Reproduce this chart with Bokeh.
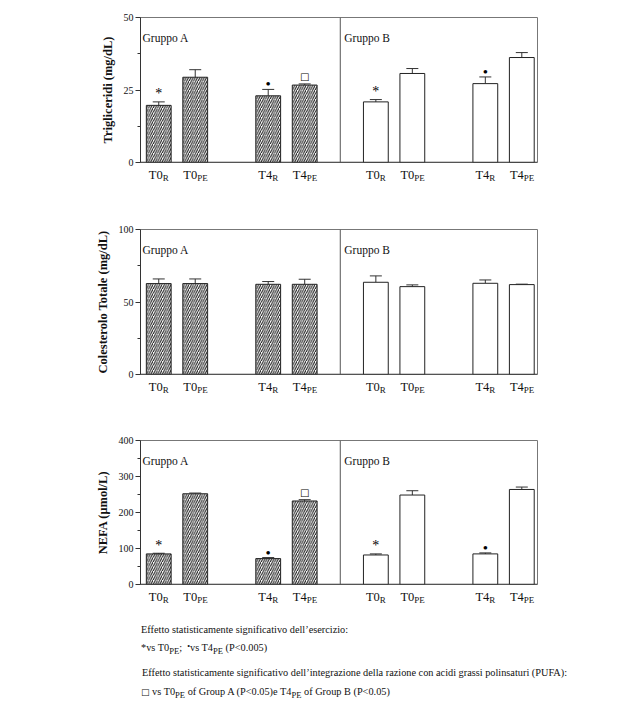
from bokeh.plotting import figure
from bokeh.models import (ColumnDataSource, Range1d, FixedTicker, Span, Label,
                          Whisker, TeeHead, Div)
from bokeh.layouts import column
from bokeh.embed import file_html
from bokeh.resources import INLINE
from bokeh.core.properties import value

# ---------------- data ----------------
groups = ["Gruppo A", "Gruppo B"]
times = ["T0", "T4"]
phases = ["R", "PE"]

trig_mean = [19.7, 29.4, 23.0, 26.7, 20.9, 30.7, 27.2, 36.2]
trig_err = [1.2, 2.6, 2.2, 0.4, 0.8, 1.7, 2.3, 1.7]
trig_sig = ["*", "", "•", "□", "*", "", "•", ""]

chol_mean = [62.7, 62.7, 62.2, 62.2, 63.6, 60.6, 62.9, 62.0]
chol_err = [3.2, 3.2, 1.9, 3.5, 4.4, 1.2, 2.3, 0.3]
chol_sig = ["", "", "", "", "", "", "", ""]

nefa_mean = [85, 252, 72, 232, 82, 248.5, 85, 264]
nefa_err = [1.8, 2.0, 2.8, 3.6, 3.0, 12.0, 2.8, 6.7]
nefa_sig = ["*", "", "•", "□", "*", "", "•", ""]

trig_ticks = [0, 25, 50]
chol_ticks = [0, 50, 100]
nefa_ticks = [0, 100, 200, 300, 400]

note1 = "Effetto statisticamente significativo dell’esercizio:"
note2 = ("*vs T0<sub>PE</sub>;&nbsp; <span style='position:relative;top:-2px;font-size:8px'>•</span>"
         "vs T4<sub>PE</sub> (P&lt;0.005)")
note3 = "Effetto statisticamente significativo dell’integrazione della razione con acidi grassi polinsaturi (PUFA):"
note4 = ("<span style=\"font-family:'DejaVu Sans';font-size:9px\">□</span> vs T0<sub>PE</sub> of Group A "
         "(P&lt;0.05)e T4<sub>PE</sub> of Group B (P&lt;0.05)")

FONT = "Liberation Serif"
TOTAL_W = 619
PAD_B = 7  # room under each frame for the half of the "0" tick label

# symbol -> (y offset px, font size, font)
SYM_STYLE = {"*": (-8, "14px", FONT), "•": (-5, "15px", FONT), "□": (-7, "10px", "DejaVu Sans")}


def panel(ylabel, means, errs, sigs, ticks, frame_h, strip_h, left, frame_w, top):
    xs, mains, subs, jx, hatch, tops = [], [], [], [], [], []
    k = 0
    for gi in range(len(groups)):
        for ti in range(len(times)):
            for si in range(len(phases)):
                xs.append(0.5 + gi * 5.95 + ti * 3 + si)
                mains.append(times[ti])
                subs.append(phases[si])
                jx.append(4 if si == 0 else 2)
                hatch.append("/" if gi == 0 else " ")
                tops.append(means[k] + errs[k])
                k += 1
    src = ColumnDataSource(dict(x=xs, mean=means, top=tops, hatch=hatch))
    right = TOTAL_W - left - frame_w
    xr = Range1d(0, 10.88)
    p = figure(width=TOTAL_W, height=top + frame_h + PAD_B, output_backend="svg",
               toolbar_location=None,
               x_range=xr, y_range=Range1d(0, ticks[-1]), x_axis_location=None,
               min_border_left=left, min_border_right=right,
               min_border_top=top, min_border_bottom=PAD_B)
    p.title.visible = False
    p.grid.visible = False
    p.outline_line_color = "#777777"
    p.background_fill_color = "white"
    p.border_fill_color = "white"

    # bars
    p.vbar(x="x", top="mean", bottom=0, width=0.68, source=src,
           fill_color="white", line_color="#222222", line_width=1,
           hatch_pattern="hatch", hatch_color="#111111", hatch_scale=4.5, hatch_weight=1)

    # error bars (upper only)
    p.add_layout(Whisker(source=src, base="x", lower="mean", upper="top",
                         dimension="height", line_color="#333333", line_width=1,
                         upper_head=TeeHead(size=12, line_color="#333333", line_width=1),
                         lower_head=None))

    # significance marks
    for sym, (dy, fs, font) in SYM_STYLE.items():
        idx = [i for i, s in enumerate(sigs) if s == sym]
        if not idx:
            continue
        p.text(x=[xs[i] for i in idx], y=[tops[i] for i in idx], text=[sym] * len(idx),
               y_offset=dy, text_align="center", text_baseline="middle",
               text_font=value(font), text_font_size=fs, text_color="black")

    # x axis line (bottom) and group divider
    p.add_layout(Span(location=0, dimension="width", line_color="#333333", line_width=1.5))
    xdiv = (xs[3] + xs[4]) / 2
    p.add_layout(Span(location=xdiv, dimension="height", line_color="#555555", line_width=1))

    # group labels
    for gx, gname, off in ((0, groups[0], 2), (xdiv, groups[1], 4)):
        p.add_layout(Label(x=gx, y=ticks[-1], x_offset=off, y_offset=-20, text=gname,
                           text_baseline="middle", text_font=FONT,
                           text_font_size="11.5px", text_color="#111111"))

    # y axis
    minor = [(a + b) / 2 for a, b in zip(ticks[:-1], ticks[1:])]
    p.yaxis.ticker = FixedTicker(ticks=ticks, minor_ticks=minor)
    p.yaxis.axis_line_color = "#333333"
    p.yaxis.major_tick_line_color = "#333333"
    p.yaxis.minor_tick_line_color = "#333333"
    p.yaxis.major_tick_out = 5
    p.yaxis.major_tick_in = 0
    p.yaxis.minor_tick_out = 3
    p.yaxis.minor_tick_in = 0
    p.yaxis.major_label_standoff = 2
    p.yaxis.major_label_text_font = FONT
    p.yaxis.major_label_text_font_size = "10px"
    p.yaxis.major_label_text_color = "#111111"
    p.yaxis.axis_label = ylabel
    p.yaxis.axis_label_text_font = FONT
    p.yaxis.axis_label_text_font_style = "bold"
    p.yaxis.axis_label_text_font_size = "12.5px"
    p.yaxis.axis_label_text_color = "#111111"
    p.yaxis.axis_label_standoff = 6

    # strip below the plot for the category labels (T0 / T4 with subscripts)
    s = figure(width=TOTAL_W, height=strip_h - PAD_B, output_backend="svg",
               toolbar_location=None,
               x_range=xr, y_range=Range1d(0, 1), x_axis_location=None, y_axis_location=None,
               min_border_left=left, min_border_right=right,
               min_border_top=0, min_border_bottom=0)
    s.title.visible = False
    s.grid.visible = False
    s.outline_line_color = None
    s.text(x=xs, y=[1] * len(xs), text=mains, x_offset=jx, y_offset=12 - PAD_B,
           text_align="right", text_baseline="alphabetic", text_font=value(FONT),
           text_font_size="12.5px", text_color="#111111")
    s.text(x=xs, y=[1] * len(xs), text=subs, x_offset=jx, y_offset=15 - PAD_B,
           text_align="left", text_baseline="alphabetic", text_font=value(FONT),
           text_font_size="9px", text_color="#111111")
    return p, s


p1, s1 = panel("Trigliceridi (mg/dL)", trig_mean, trig_err, trig_sig, trig_ticks,
               frame_h=145, strip_h=28, left=135, frame_w=402, top=17)
p2, s2 = panel("Colesterolo Totale (mg/dL)", chol_mean, chol_err, chol_sig, chol_ticks,
               frame_h=145, strip_h=26, left=137, frame_w=404, top=39)
p3, s3 = panel("NEFA (μmol/L)", nefa_mean, nefa_err, nefa_sig, nefa_ticks,
               frame_h=144, strip_h=26, left=140, frame_w=403, top=40)

html = (
    "<div style=\"position:relative;width:619px;height:94px;font-family:'Liberation Serif',serif;"
    "font-size:10.3px;color:#111;line-height:1;white-space:nowrap;\">"
    f"<div style='position:absolute;left:136px;top:10px;'>{note1}</div>"
    f"<div style='position:absolute;left:136px;top:28px;'>{note2}</div>"
    f"<div style='position:absolute;left:137px;top:53px;'>{note3}</div>"
    f"<div style='position:absolute;left:136px;top:72px;'>{note4}</div>"
    "</div>"
)
notes = Div(text=html, width=TOTAL_W, height=94)

layout = column(p1, s1, p2, s2, p3, s3, notes, spacing=0)
open("out.html", "w").write(file_html(layout, INLINE))
